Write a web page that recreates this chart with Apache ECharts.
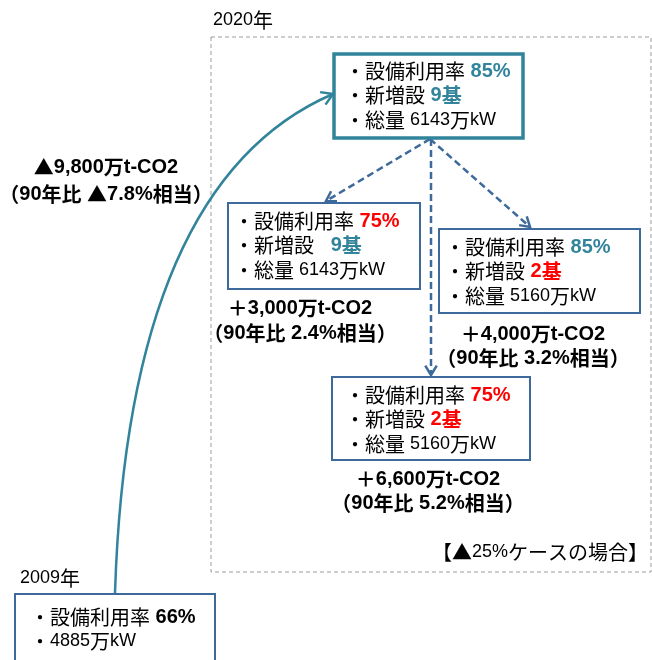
<!DOCTYPE html>
<html>
<head>
<meta charset="utf-8">
<script src="https://cdn.jsdelivr.net/npm/echarts@6/dist/echarts.min.js"></script>
<style>
html, body { margin: 0; padding: 0; background: #fff; }
#chart { width: 652px; height: 660px; }
</style>
</head>
<body>
<div id="chart"></div>
<script>
// ---- diagram values ----
const yearLabels = ['2020年', '2009年'];
const caseLabel = '【▲25%ケースの場合】';
const rateLabel = '設備利用率';
const newBuildLabel = '新増設';
const totalLabel = '総量';
// boxes: 2020 base, left, right, bottom, 2009
const rates = ['85%', '75%', '85%', '75%', '66%'];
const newUnits = ['9基', '  9基', '2基', '2基', ''];
const capacities = ['6143万kW', '6143万kW', '5160万kW', '5160万kW', '4885万kW'];
// emission change: 2009->2020, left, right, bottom
const co2Changes = ['▲9,800万t-CO2', '＋3,000万t-CO2', '＋4,000万t-CO2', '＋6,600万t-CO2'];
const co2Ratios = ['（90年比 ▲7.8%相当）', '（90年比 2.4%相当）', '（90年比 3.2%相当）', '（90年比 5.2%相当）'];

// ---- layout (diagram units == pixels) ----
// x1, y1, x2, y2, text left, first text line
const boxFrames = [
  [334, 54, 523, 138, 345, 71],
  [228, 203, 420, 289, 234, 221],
  [439, 229, 640, 313, 445, 247],
  [332, 377, 530, 460, 345, 395],
  [15, 594, 215, 672, 30, 617]
];
const lineGap = 24.5;
// center x, line 1 y, line 2 y
const co2Pos = [
  [106, 167, 194],
  [300, 308, 333],
  [533, 334, 358],
  [428, 479, 503]
];
// x1, y1, x2, y2, ctrl x, ctrl y, dashed
const arrowPaths = [
  [115, 593, 333, 94, 128, 182, 0],
  [430, 139, 326, 201, 378, 170, 1],
  [430, 139, 530, 227, 480, 183, 1],
  [431, 139, 431, 375, 431, 257, 1]
];
const framePos = [211, 37, 651, 572];

// ---- styles ----
const TEAL = '#31849B';
const BLUE = '#3D6A9B';
const RED = '#FF0000';
const CJK = '"Noto Sans CJK JP", sans-serif';
const LAT = '"Liberation Sans", "Noto Sans CJK JP", sans-serif';
const rateTag = ['t', 'r', 't', 'r', 'b'];
const unitTag = ['t', 't', 'r', 'r', 'b'];

const rich = {
  c: { fontSize: 20, fontFamily: CJK, fill: '#000' },
  l: { fontSize: 18, fontFamily: LAT, fill: '#000' },
  cy: { fontSize: 20, fontFamily: CJK, fill: '#000' },
  ly: { fontSize: 18, fontFamily: LAT, fill: '#000' },
  cb: { fontSize: 20, fontFamily: CJK, fill: '#000', fontWeight: 'bold' },
  lb: { fontSize: 20, fontFamily: LAT, fill: '#000', fontWeight: 'bold' },
  ct: { fontSize: 20, fontFamily: CJK, fill: TEAL, fontWeight: 'bold' },
  lt: { fontSize: 20, fontFamily: LAT, fill: TEAL, fontWeight: 'bold' },
  cr: { fontSize: 20, fontFamily: CJK, fill: RED, fontWeight: 'bold' },
  lr: { fontSize: 20, fontFamily: LAT, fill: RED, fontWeight: 'bold' }
};

// split into latin / cjk runs so each can get its own font
function tag(str, suffix) {
  return str.replace(/[\x20-\x7e]+|[^\x20-\x7e]+/g, function (s) {
    const kind = /^[\x20-\x7e]/.test(s) ? 'l' : 'c';
    return '{' + kind + (suffix || '') + '|' + s + '}';
  });
}

function boxLines(i) {
  if (!newUnits[i]) {
    return [
      tag('・' + rateLabel) + tag(' ' + rates[i], rateTag[i]),
      tag('・' + capacities[i])
    ];
  }
  return [
    tag('・' + rateLabel) + tag(' ' + rates[i], rateTag[i]),
    tag('・' + newBuildLabel) + tag(' ' + newUnits[i], unitTag[i]),
    tag('・' + totalLabel + ' ') + tag(capacities[i])
  ];
}

function renderFrame(params, api) {
  const p1 = api.coord([api.value(0), api.value(1)]);
  const p2 = api.coord([api.value(2), api.value(3)]);
  const y1 = api.coord([213, 20]);
  const y0 = api.coord([20, 578]);
  const cs = api.coord([648, 552]);
  return {
    type: 'group',
    children: [
      { type: 'rect', shape: { x: p1[0], y: p1[1], width: p2[0] - p1[0], height: p2[1] - p1[1] },
        style: { fill: null, stroke: '#9C9C9C', lineWidth: 1, lineDash: [4, 3] } },
      { type: 'text', style: { x: y1[0], y: y1[1], text: tag(yearLabels[0], 'y'), rich: rich, verticalAlign: 'middle', align: 'left' } },
      { type: 'text', style: { x: y0[0], y: y0[1], text: tag(yearLabels[1], 'y'), rich: rich, verticalAlign: 'middle', align: 'left' } },
      { type: 'text', style: { x: cs[0], y: cs[1], text: tag(caseLabel), rich: rich, verticalAlign: 'middle', align: 'right' } }
    ]
  };
}

function renderArrow(params, api) {
  const a = api.coord([api.value(0), api.value(1)]);
  const b = api.coord([api.value(2), api.value(3)]);
  const c = api.coord([api.value(4), api.value(5)]);
  const dashed = api.value(6) === 1;
  const color = dashed ? BLUE : TEAL;
  const dx = b[0] - c[0], dy = b[1] - c[1];
  const len = Math.sqrt(dx * dx + dy * dy);
  const ux = dx / len, uy = dy / len;
  const head = dashed ? 11 : 13, ang = 0.55;
  const cos = Math.cos(ang), sin = Math.sin(ang);
  const h1 = [b[0] - head * (ux * cos - uy * sin), b[1] - head * (uy * cos + ux * sin)];
  const h2 = [b[0] - head * (ux * cos + uy * sin), b[1] - head * (uy * cos - ux * sin)];
  return {
    type: 'group',
    children: [
      { type: 'bezierCurve', shape: { x1: a[0], y1: a[1], x2: b[0], y2: b[1], cpx1: c[0], cpy1: c[1] },
        style: { fill: null, stroke: color, lineWidth: 2.5, lineDash: dashed ? [7, 4] : null } },
      { type: 'polyline', shape: { points: [h1, b, h2] },
        style: { fill: null, stroke: color, lineWidth: 2.5 } }
    ]
  };
}

function renderBox(params, api) {
  const i = params.dataIndex;
  const p1 = api.coord([api.value(0), api.value(1)]);
  const p2 = api.coord([api.value(2), api.value(3)]);
  const children = [
    { type: 'rect', shape: { x: p1[0], y: p1[1], width: p2[0] - p1[0], height: p2[1] - p1[1] },
      style: { fill: '#fff', stroke: i === 0 ? TEAL : BLUE, lineWidth: i === 0 ? 3.5 : 2 } }
  ];
  boxLines(i).forEach(function (txt, k) {
    const p = api.coord([api.value(4), api.value(5) + k * lineGap]);
    children.push({ type: 'text', style: { x: p[0], y: p[1], text: txt, rich: rich, verticalAlign: 'middle', align: 'left' } });
  });
  return { type: 'group', children: children };
}

function renderCo2(params, api) {
  const i = params.dataIndex;
  const p1 = api.coord([api.value(0), api.value(1)]);
  const p2 = api.coord([api.value(0), api.value(2)]);
  return {
    type: 'group',
    children: [
      { type: 'text', style: { x: p1[0], y: p1[1], text: tag(co2Changes[i], 'b'), rich: rich, verticalAlign: 'middle', align: 'center' } },
      { type: 'text', style: { x: p2[0], y: p2[1], text: tag(co2Ratios[i], 'b'), rich: rich, verticalAlign: 'middle', align: 'center' } }
    ]
  };
}

const chart = echarts.init(document.getElementById('chart'), null, { renderer: 'canvas' });
chart.setOption({
  animation: false,
  backgroundColor: '#fff',
  grid: { left: 0, right: 0, top: 0, bottom: 0 },
  xAxis: { type: 'value', min: 0, max: 652, show: false },
  yAxis: { type: 'value', min: 0, max: 660, inverse: true, show: false },
  series: [
    { type: 'custom', renderItem: renderFrame, data: [framePos], z: 1, silent: true },
    { type: 'custom', renderItem: renderArrow, data: arrowPaths, z: 2, silent: true },
    { type: 'custom', renderItem: renderBox, data: boxFrames, z: 3, silent: true },
    { type: 'custom', renderItem: renderCo2, data: co2Pos, z: 4, silent: true }
  ]
});
</script>
</body>
</html>
